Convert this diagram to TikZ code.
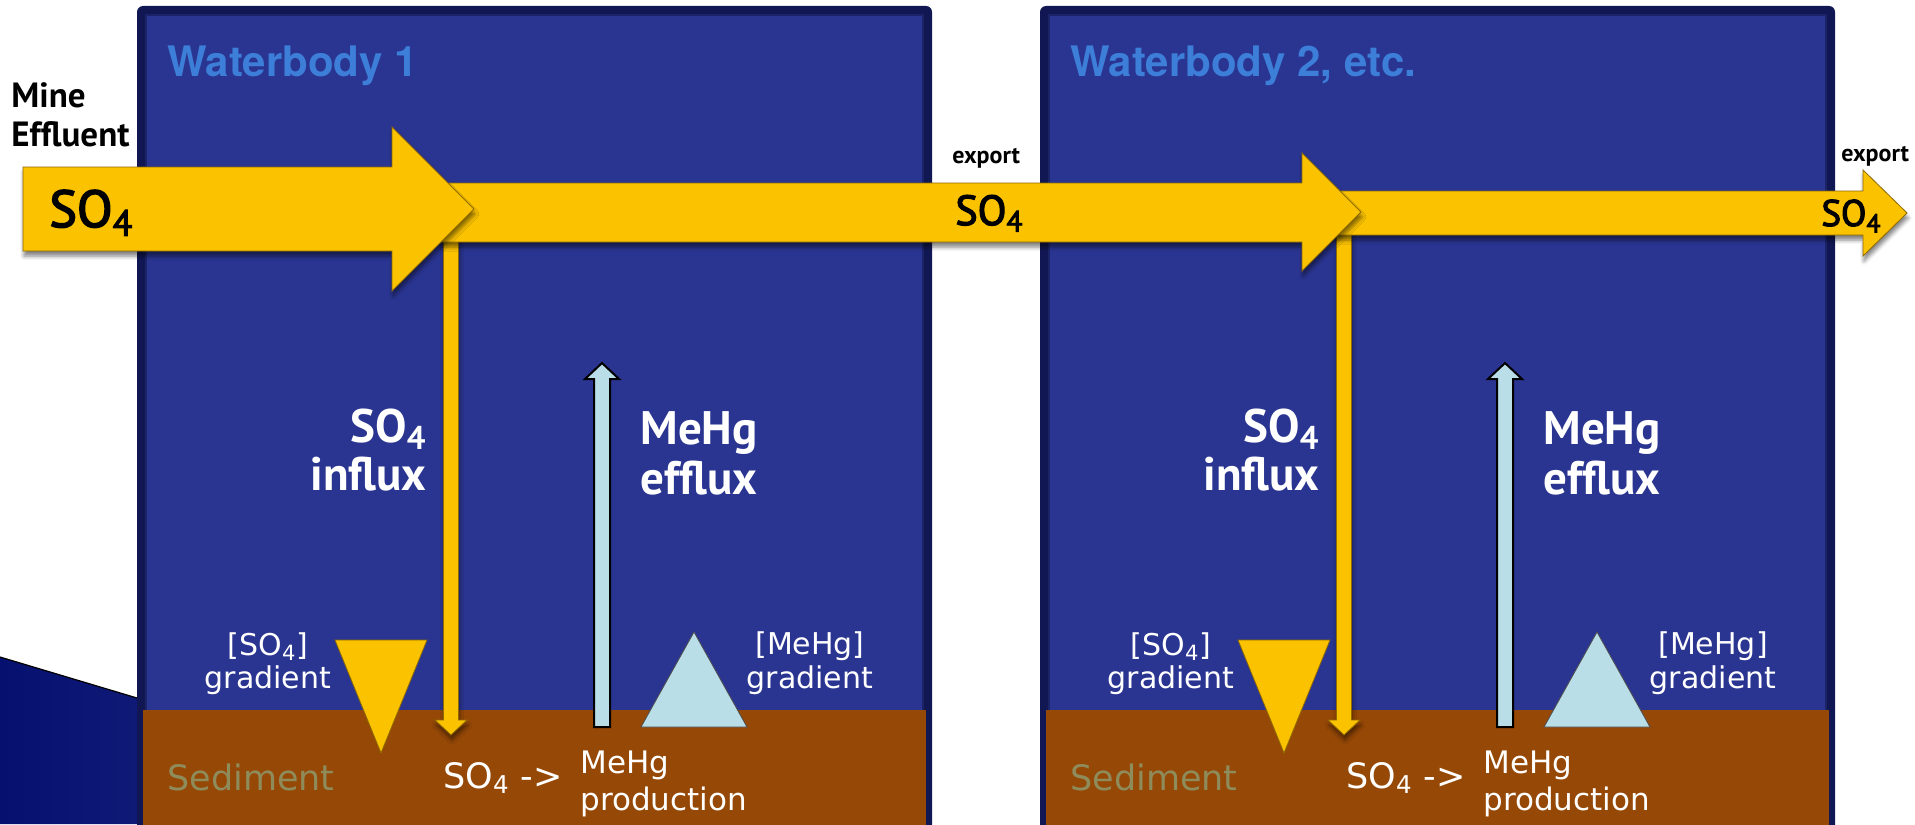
\documentclass[tikz,border=0pt]{standalone}
\usepackage{fontspec}
\setmainfont{PT Sans}
\newfontfamily\medfont[FakeBold=3]{PT Sans}
\newfontfamily\gradfont{DejaVu Sans}
\newfontfamily\titlefont{TeX Gyre Heros}
\usetikzlibrary{shadows.blur}
\definecolor{waterblue}{HTML}{2A3591}
\definecolor{boxedge}{HTML}{111752}
\definecolor{boxline}{HTML}{1C2468}
\definecolor{sediment}{HTML}{964806}
\definecolor{sulfate}{HTML}{FBC200}
\definecolor{sulfateedge}{HTML}{8E6A00}
\definecolor{mehg}{HTML}{B9DEE7}
\definecolor{titleblue}{HTML}{3C7ED8}
\definecolor{sedtext}{HTML}{8F8C5C}
\definecolor{slidenavy}{HTML}{06106E}

\begin{document}
\begin{tikzpicture}[x=0.5pt, y=-0.5pt,
  every node/.style={inner sep=0pt},
  flux/.style={fill=sulfate, draw=sulfateedge, line width=0.4pt,
    blur shadow={shadow xshift=0.5pt, shadow yshift=-2.5pt, shadow blur radius=2pt, shadow opacity=50}},
  wlabel/.style={text=white, font=\bfseries\fontsize{23.5}{28}\selectfont},
  glabel/.style={text=white, font=\gradfont\fontsize{15}{18}\selectfont},
  slabel/.style={font=\medfont\fontsize{#1}{#1}\selectfont}]
  \useasboundingbox (0,0) rectangle (1915,824);
  \clip (0,0) rectangle (1915,824);
  % slide corner
  \shade[left color=slidenavy, right color=slidenavy!75!waterblue]
    (0,657) -- (137,698) -- (137,824) -- (0,824) -- cycle;
  \draw[line width=0.6pt] (0,657) -- (137,698);
  % waterbodies
  \foreach \i/\dx/\ax/\name in {1/0/451/{Waterbody 1}, 2/903/1344/{Waterbody 2, etc.}} {
    \fill[boxedge, rounded corners=3pt] (137+\dx,6) rectangle (932+\dx,850);
    \filldraw[fill=waterblue, draw=boxline, line width=1pt] (146+\dx,15) rectangle (923+\dx,850);
    \fill[sediment] (143+\dx,710) rectangle (926+\dx,850);
    \node[anchor=base west, text=titleblue, font=\titlefont\bfseries\fontsize{21}{25}\selectfont]
      (title\i) at (167+\dx,77) {\name};
    % gradients
    \filldraw[fill=sulfate, draw=sulfateedge, line width=0.4pt]
      (335+\dx,640) -- (427+\dx,640) -- (381+\dx,753) -- cycle;
    \filldraw[fill=mehg, draw=black!70, line width=0.4pt]
      (641+\dx,727) -- (747+\dx,727) -- (694+\dx,632) -- cycle;
    % influx and efflux
    \filldraw[flux] (\ax-7.5,230) -- (\ax+7.5,230) -- (\ax+7.5,720) -- (\ax+16,720)
      -- (\ax,735) -- (\ax-16,720) -- (\ax-7.5,720) -- cycle;
    \filldraw[fill=mehg, draw=black, line width=1pt] (594+\dx,727) -- (594+\dx,379)
      -- (585+\dx,379) -- (602+\dx,363) -- (619+\dx,379) -- (610+\dx,379) -- (610+\dx,727) -- cycle;
    \node[wlabel, anchor=base east] (so\i) at (\ax-24,442) {SO\textsubscript{4}};
    \node[wlabel, anchor=base east] (influx\i) at (\ax-24,490) {influx};
    \node[wlabel, anchor=base west] (mehg\i) at (640+\dx,444) {MeHg};
    \node[wlabel, anchor=base west] (efflux\i) at (640+\dx,494) {efflux};
    \node[glabel, anchor=base] (sconc\i) at (268+\dx,655) {[SO\textsubscript{4}]};
    \node[glabel, anchor=base] (sgrad\i) at (268+\dx,688) {gradient};
    \node[glabel, anchor=base] (mconc\i) at (810+\dx,654) {[MeHg]};
    \node[glabel, anchor=base] (mgrad\i) at (810+\dx,688) {gradient};
    % sediment
    \node[anchor=base west, text=sedtext, font=\gradfont\fontsize{17.5}{20}\selectfont]
      (sed\i) at (167+\dx,790) {Sediment};
    \node[anchor=base west, text=white, font=\gradfont\fontsize{17.5}{20}\selectfont]
      (conv\i) at (443+\dx,788) {SO\textsubscript{4} ->};
    \node[glabel, anchor=base west, font=\gradfont\fontsize{15.5}{18}\selectfont]
      (prod\i) at (580+\dx,773) {MeHg};
    \node[glabel, anchor=base west, font=\gradfont\fontsize{15.5}{18}\selectfont]
      (prodb\i) at (580+\dx,810) {production};
  }
  % sulfate through the chain
  \filldraw[flux] (1330,191) -- (1863,191) -- (1863,170) -- (1907,213) -- (1863,256)
    -- (1863,235) -- (1330,235) -- cycle;
  \filldraw[flux] (440,183) -- (1302,183) -- (1302,153) -- (1361,212) -- (1302,271)
    -- (1302,242) -- (440,242) -- cycle;
  \filldraw[flux] (23,167) -- (392,167) -- (392,127) -- (474,209) -- (392,291)
    -- (392,251) -- (23,251) -- cycle;
  \node[slabel=26, anchor=base west] (soin) at (49,227) {SO\textsubscript{4}};
  \node[slabel=21, anchor=base west] (somid) at (955,225) {SO\textsubscript{4}};
  \node[slabel=18.5, anchor=base west] (soout) at (1821,226) {SO\textsubscript{4}};
  \node[anchor=base west, font=\bfseries\fontsize{17.5}{20}\selectfont] (mine) at (11,108) {Mine};
  \node[anchor=base west, font=\bfseries\fontsize{17.5}{20}\selectfont] (effl) at (11,147) {Effluent};
  \node[anchor=base west, font=\bfseries\fontsize{12}{14}\selectfont] (exp1) at (952,163) {export};
  \node[anchor=base west, font=\bfseries\fontsize{12}{14}\selectfont] (exp2) at (1841,162) {export};
\end{tikzpicture}
\end{document}
